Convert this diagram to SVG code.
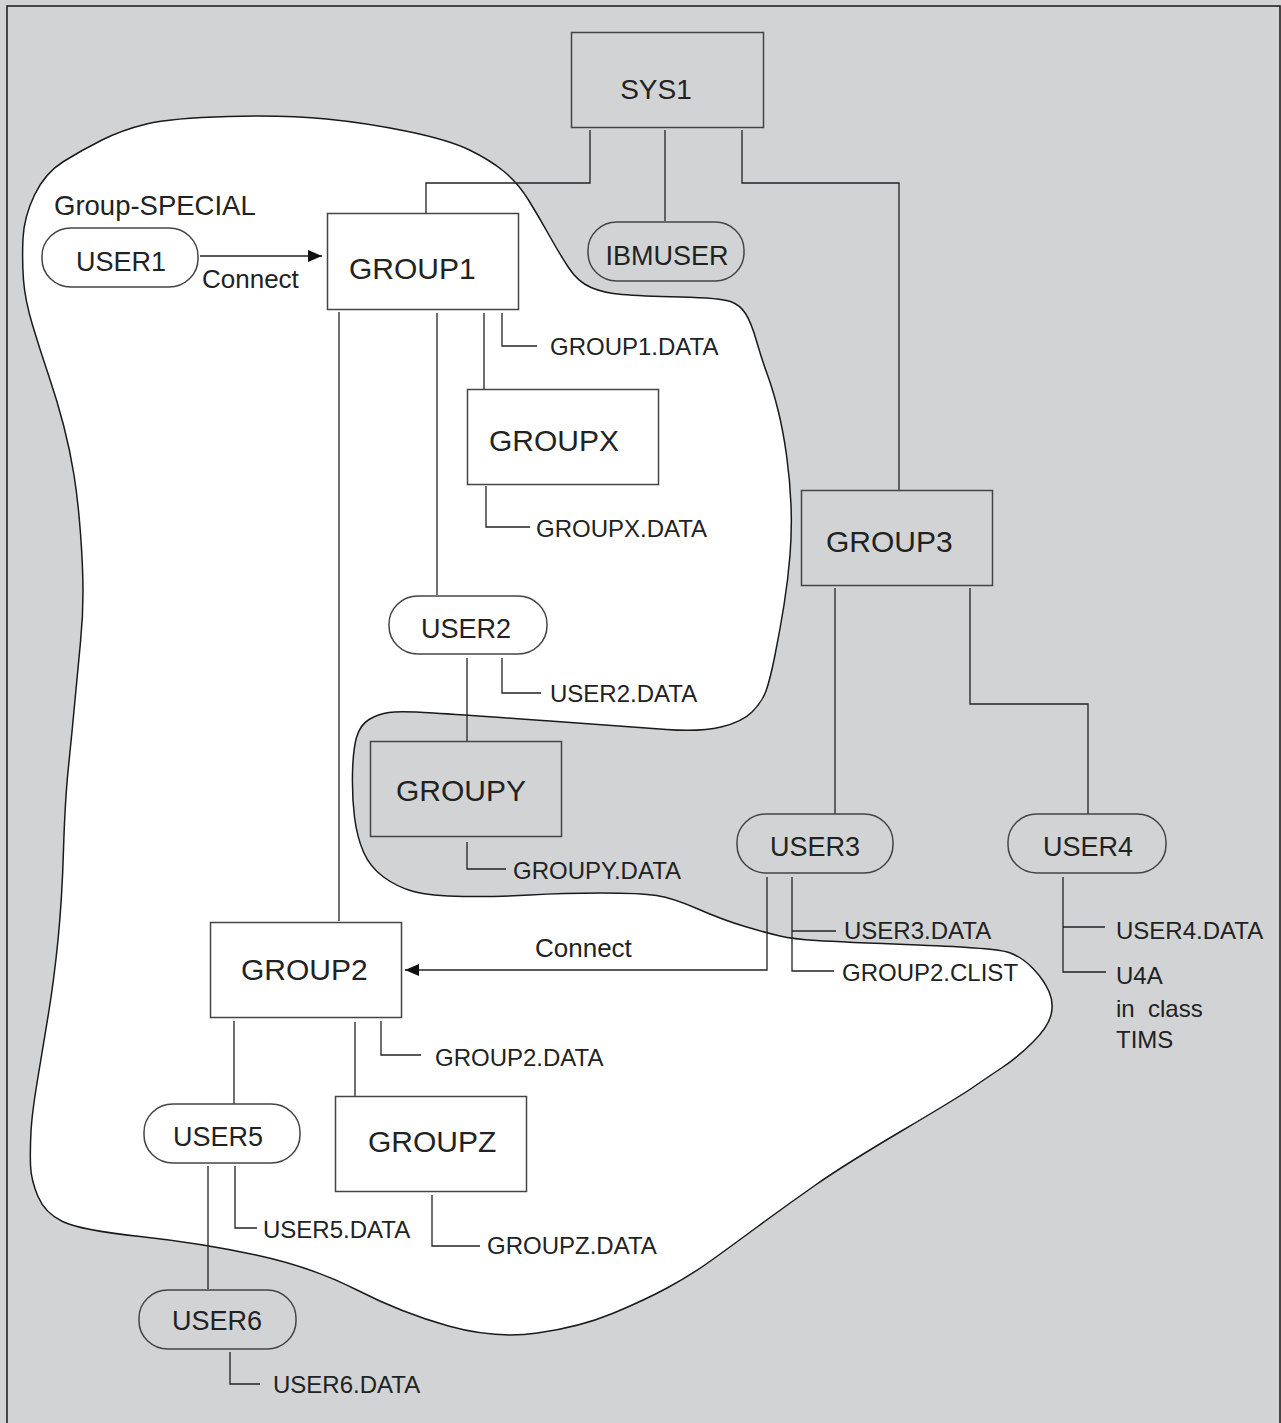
<svg xmlns="http://www.w3.org/2000/svg" width="1281" height="1423" viewBox="0 0 1281 1423">
<defs>
<style>
.bg{fill:#d1d3d5}
.frame{fill:none;stroke:#222;stroke-width:1.6}
.blob{fill:#fff;stroke:#1a1a1a;stroke-width:1.5}
.box{stroke:#444;stroke-width:1.5}
.w{fill:#fff}
.g{fill:#d1d3d5}
.ln{fill:none;stroke:#222;stroke-width:1.3}
text{font-family:"Liberation Sans",Arial,Helvetica,sans-serif;fill:#222}
.big{font-size:30px}
.usr{font-size:27px;text-anchor:middle}
.lbl{font-size:24px}
.con{font-size:26px}
</style>
<marker id="ah" markerWidth="14" markerHeight="12" refX="14" refY="6" orient="auto" markerUnits="userSpaceOnUse">
<path d="M0,0 L14,6 L0,12 Z" fill="#111"/>
</marker>
</defs>
<rect class="bg" x="0" y="0" width="1281" height="1423"/>
<rect class="frame" x="7" y="6" width="1273" height="1430"/>
<path id="group-special-area" class="blob" d="M228.5,116.5 Q286,115 326.5,119 Q367,123 408,131.5 Q449,140 469.5,150 Q490,160 504,171.5 Q518,183 528.5,200 Q539,217 549,235 Q559,253 568.5,267.5 Q578,282 591,287.5 Q604,293 622,294.5 Q640,296 680.5,297 Q721,298 730.5,301.5 Q740,305 745.5,313.5 Q751,322 756.5,341 Q762,360 767.5,375 Q773,390 778,410 Q783,430 786.5,455 Q790,480 791,505 Q792,530 790,555 Q788,580 784,605 Q780,630 775,655 Q770,680 766,691 Q762,702 752,712 Q742,722 721,727 Q700,732 666.5,729.5 Q633,727 550,721 Q467,715 433.5,713 Q400,711 389,712.5 Q378,714 369,719.5 Q360,725 356.5,737.5 Q353,750 352.5,773.5 Q352,797 354.5,817 Q357,837 363.5,852 Q370,867 383.5,877 Q397,887 413.5,891.5 Q430,896 463.5,896.5 Q497,897 530,895 Q563,893 601.5,893 Q640,893 656.5,895.5 Q673,898 698,909 Q723,920 745,926.5 Q767,933 780,936 Q793,939 816.5,940.5 Q840,942 918,945 Q996,948 1009,952.5 Q1022,957 1033,968.5 Q1044,980 1049,991.5 Q1054,1003 1051,1015 Q1048,1027 1033,1042 Q1018,1057 1001.5,1068 Q985,1079 972,1088 Q959,1097 901.5,1131 Q844,1165 815.5,1185 Q787,1205 758.5,1226 Q730,1247 710.5,1261 Q691,1275 668,1287.5 Q645,1300 612.5,1313.5 Q580,1327 537.5,1333 Q495,1339 448.5,1326 Q402,1313 357,1290 Q312,1267 256,1255 Q200,1243 140,1236.5 Q80,1230 62.5,1221.5 Q45,1213 38,1196.5 Q31,1180 30.5,1165 Q30,1150 31,1131.5 Q32,1113 37.5,1080 Q43,1047 48.5,1013.5 Q54,980 58,940 Q62,900 63.5,850 Q65,800 68.5,766.5 Q72,733 75,700 Q78,667 80.5,642 Q83,617 83,592 Q83,567 80.5,533.5 Q78,500 74,475 Q70,450 63.5,425 Q57,400 48.5,375 Q40,350 32.5,325 Q25,300 23.5,280 Q22,260 23,238.5 Q24,217 34.5,195 Q45,173 63.5,161.5 Q82,150 102,140 Q122,130 146.5,124 Q171,118 228.5,116.5 Z"/>
<text class="con" x="54" y="215" style="font-size:27.5px">Group-SPECIAL</text>

<g id="connectors">
<polyline class="ln" points="590,130 590,183 426,183 426,213"/>
<line class="ln" x1="665" y1="130" x2="665" y2="221"/>
<polyline class="ln" points="742,130 742,183 899,183 899,490"/>
<line class="ln" x1="200" y1="256" x2="322" y2="256" marker-end="url(#ah)"/>
<text class="con" x="202" y="288">Connect</text>
<line class="ln" x1="339" y1="312" x2="339" y2="921"/>
<line class="ln" x1="437" y1="313" x2="437" y2="595"/>
<line class="ln" x1="484" y1="313" x2="484" y2="389"/>
<polyline class="ln" points="502,313 502,346 537,346"/>
<polyline class="ln" points="486,486 486,527 530,527"/>
<line class="ln" x1="467" y1="658" x2="467" y2="741"/>
<polyline class="ln" points="502,658 502,693 541,693"/>
<polyline class="ln" points="467,842 467,869 506,869"/>
<line class="ln" x1="835" y1="588" x2="835" y2="814"/>
<polyline class="ln" points="970,588 970,704 1088,704 1088,814"/>
<polyline class="ln" points="767,877 767,970 405,970" marker-end="url(#ah)"/>
<text class="con" x="535" y="957">Connect</text>
<polyline class="ln" points="792,877 792,971 834,971"/>
<line class="ln" x1="792" y1="931" x2="836" y2="931"/>
<polyline class="ln" points="1063,877 1063,972 1106,972"/>
<line class="ln" x1="1063" y1="927" x2="1105" y2="927"/>
<line class="ln" x1="234" y1="1021" x2="234" y2="1104"/>
<line class="ln" x1="355" y1="1022" x2="355" y2="1096"/>
<polyline class="ln" points="381,1021 381,1055 421,1055"/>
<line class="ln" x1="208" y1="1166" x2="208" y2="1289"/>
<polyline class="ln" points="235,1166 235,1228 257,1228"/>
<polyline class="ln" points="432,1195 432,1246 480,1246"/>
<polyline class="ln" points="230,1352 230,1384 260,1384"/>
</g>

<g id="SYS1"><rect class="box g" x="571.5" y="32.5" width="192" height="95"/><text class="usr" x="656" y="99" style="font-size:28px">SYS1</text></g>
<g id="IBMUSER"><rect class="box g" x="588" y="222" width="156" height="59" rx="29" ry="28"/><text class="usr" x="667" y="265">IBMUSER</text></g>
<g id="USER1"><rect class="box w" x="42" y="228" width="156" height="59" rx="29" ry="28"/><text class="usr" x="121" y="271">USER1</text></g>
<g id="GROUP1"><rect class="box w" x="327.5" y="213.5" width="191" height="96"/><text class="big" x="349" y="279">GROUP1</text></g>
<text class="lbl" x="550" y="355">GROUP1.DATA</text>
<g id="GROUPX"><rect class="box w" x="467.5" y="389.5" width="191" height="95"/><text class="big" x="489" y="451">GROUPX</text></g>
<text class="lbl" x="536" y="537">GROUPX.DATA</text>
<g id="USER2"><rect class="box w" x="389" y="596" width="158" height="58" rx="29" ry="28"/><text class="usr" x="466" y="638">USER2</text></g>
<text class="lbl" x="550" y="702">USER2.DATA</text>
<g id="GROUPY"><rect class="box g" x="370.5" y="741.5" width="191" height="95"/><text class="big" x="396" y="801">GROUPY</text></g>
<text class="lbl" x="513" y="879">GROUPY.DATA</text>
<g id="GROUP3"><rect class="box g" x="801.5" y="490.5" width="191" height="95"/><text class="big" x="826" y="552">GROUP3</text></g>
<g id="USER3"><rect class="box g" x="737" y="814" width="156" height="59" rx="29" ry="28"/><text class="usr" x="815" y="856">USER3</text></g>
<text class="lbl" x="844" y="939">USER3.DATA</text>
<text class="lbl" x="842" y="981">GROUP2.CLIST</text>
<g id="USER4"><rect class="box g" x="1008" y="814" width="158" height="59" rx="29" ry="28"/><text class="usr" x="1088" y="856">USER4</text></g>
<text class="lbl" x="1116" y="939">USER4.DATA</text>
<text class="lbl" x="1116" y="984">U4A</text>
<text class="lbl" x="1116" y="1017" xml:space="preserve">in  class</text>
<text class="lbl" x="1116" y="1048">TIMS</text>
<g id="GROUP2"><rect class="box w" x="210.5" y="922.5" width="191" height="95"/><text class="big" x="241" y="980">GROUP2</text></g>
<text class="lbl" x="435" y="1066">GROUP2.DATA</text>
<g id="USER5"><rect class="box w" x="144" y="1104" width="156" height="59" rx="29" ry="28"/><text class="usr" x="218" y="1146">USER5</text></g>
<text class="lbl" x="263" y="1238">USER5.DATA</text>
<g id="GROUPZ"><rect class="box w" x="335.5" y="1096.5" width="191" height="95"/><text class="big" x="368" y="1152">GROUPZ</text></g>
<text class="lbl" x="487" y="1254">GROUPZ.DATA</text>
<g id="USER6"><rect class="box g" x="139" y="1290" width="157" height="59" rx="29" ry="28"/><text class="usr" x="217" y="1330">USER6</text></g>
<text class="lbl" x="273" y="1393">USER6.DATA</text>
</svg>
